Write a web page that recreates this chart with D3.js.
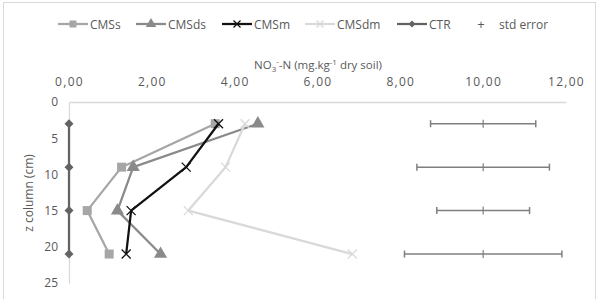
<!DOCTYPE html>
<html>
<head>
<meta charset="utf-8">
<script src="https://cdn.jsdelivr.net/npm/d3@7"></script>
<style>
    body { margin: 0; background: #fff; }
    svg text { font-family: "Open Sans", "Noto Sans", sans-serif; fill: #595959; }
</style>
</head>
<body>
<svg id="chart" width="599" height="299"></svg>
<script>
// depth of each sample (cm)
const depths = [3, 9, 15, 21];
const cmsS = [3.53, 1.27, 0.44, 0.97];
const cmsDS = [4.56, 1.55, 1.17, 2.21];
const cmsM = [3.61, 2.83, 1.50, 1.38];
const cmsDM = [4.25, 3.78, 2.88, 6.84];
const ctr = [0, 0, 0, 0];
const errCenter = [10, 10, 10, 10];
const errSize = [1.27, 1.6, 1.12, 1.9];
const xTicks = [0, 2, 4, 6, 8, 10, 12];
const yTicks = [0, 5, 10, 15, 20, 25];

const seriesNames = ["CMSs", "CMSds", "CMSm", "CMSdm", "CTR"];
const series = [
    {name: "CMSs", values: cmsS, color: "#a6a6a6", marker: "square"},
    {name: "CMSds", values: cmsDS, color: "#8a8a8a", marker: "triangle"},
    {name: "CMSm", values: cmsM, color: "#111111", marker: "cross"},
    {name: "CMSdm", values: cmsDM, color: "#d9d9d9", marker: "cross"},
    {name: "CTR", values: ctr, color: "#636363", marker: "diamond"}
];

const svg = d3.select("#chart");
const margin = {left: 69, right: 33, top: 102, bottom: 16};
const width = 599, height = 299;

// outer frame
svg.append("rect")
    .attr("x", 3.5).attr("y", 2.5)
    .attr("width", 592).attr("height", 300)
    .attr("fill", "none").attr("stroke", "#d9d9d9");

const xScale = d3.scaleLinear().domain([0, 12]).range([margin.left, width - margin.right]);
const yScale = d3.scaleLinear().domain([0, 25]).range([margin.top, height - margin.bottom]);

// axes (Excel style: horizontal axis at top, light lines)
const xAxis = d3.axisTop(xScale).tickValues(xTicks).tickSize(0).tickPadding(16)
    .tickFormat(d => d3.format(".2f")(d).replace(".", ","));
const gx = svg.append("g").attr("transform", `translate(0,${margin.top})`).call(xAxis);
gx.select(".domain").attr("stroke", "#d9d9d9").attr("stroke-width", 1.3);
gx.selectAll("text").style("font-size", "12px").style("letter-spacing", "1.3px");

const yAxis = d3.axisLeft(yScale).tickValues(yTicks).tickSize(0).tickPadding(11);
const gy = svg.append("g").attr("transform", `translate(${margin.left},0)`).call(yAxis);
gy.select(".domain").attr("stroke", "#d9d9d9").attr("stroke-width", 1.3);
gy.selectAll("text").style("font-size", "12px");

// axis titles
const title = svg.append("text").attr("x", 318).attr("y", 69)
    .attr("text-anchor", "middle").style("font-size", "11.5px");
title.append("tspan").text("NO");
title.append("tspan").attr("dy", 3).style("font-size", "8px").text("3");
title.append("tspan").attr("dy", -8).style("font-size", "8px").text("-");
title.append("tspan").attr("dy", 5).text("-N (mg.kg");
title.append("tspan").attr("dy", -4).style("font-size", "8px").text("-1");
title.append("tspan").attr("dy", 4).text(" dry soil)");

svg.append("text")
    .attr("transform", "translate(33,193) rotate(-90)")
    .attr("text-anchor", "middle").style("font-size", "12px")
    .text("z column (cm)");

// marker drawing
function drawMarker(g, type, color, size) {
    if (type === "square") {
        g.append("rect").attr("x", -size / 2).attr("y", -size / 2)
            .attr("width", size).attr("height", size).attr("fill", color);
    } else if (type === "triangle") {
        g.append("path").attr("d", d3.symbol(d3.symbolTriangle, size * size * 0.75)()).attr("fill", color);
    } else if (type === "diamond") {
        const s = size / 2;
        g.append("path").attr("d", `M0,${-s}L${s},0L0,${s}L${-s},0Z`).attr("fill", color);
    } else if (type === "cross") {
        const s = size / 2;
        g.append("path").attr("d", `M${-s},${-s}L${s},${s}M${s},${-s}L${-s},${s}`)
            .attr("stroke", color).attr("stroke-width", 1.3).attr("fill", "none");
    }
}

// error bars (std error)
const err = svg.append("g");
errCenter.forEach((c, i) => {
    const y = yScale(depths[i]);
    const x0 = xScale(c - errSize[i]), x1 = xScale(c + errSize[i]);
    err.append("line").attr("x1", x0).attr("x2", x1).attr("y1", y).attr("y2", y)
        .attr("stroke", "#7f7f7f").attr("stroke-width", 1.5);
    [x0, x1].forEach(x => err.append("line").attr("x1", x).attr("x2", x)
        .attr("y1", y - 3.5).attr("y2", y + 3.5).attr("stroke", "#7f7f7f").attr("stroke-width", 1.5));
    err.append("line").attr("x1", xScale(c)).attr("x2", xScale(c))
        .attr("y1", y - 4).attr("y2", y + 4).attr("stroke", "#7f7f7f").attr("stroke-width", 1.2);
});

// series lines and markers
const line = d3.line().x(d => xScale(d[0])).y(d => yScale(d[1]));
const markerSize = {square: 9, triangle: 10, diamond: 9, cross: 9};
series.forEach(s => {
    const pts = s.values.map((v, i) => [v, depths[i]]);
    svg.append("path").datum(pts).attr("d", line)
        .attr("fill", "none").attr("stroke", s.color).attr("stroke-width", 2.25)
        .attr("stroke-linejoin", "round");
    pts.forEach(p => {
        const g = svg.append("g").attr("transform", `translate(${xScale(p[0])},${yScale(p[1])})`);
        drawMarker(g, s.marker, s.color, markerSize[s.marker]);
    });
});

// legend
const legendX = [58, 136, 222, 305, 397];
const legend = svg.append("g");
series.forEach((s, i) => {
    const x = legendX[i], y = 24;
    legend.append("line").attr("x1", x).attr("x2", x + 30).attr("y1", y).attr("y2", y)
        .attr("stroke", s.color).attr("stroke-width", 2.25);
    const g = legend.append("g").attr("transform", `translate(${x + 15},${y})`);
    drawMarker(g, s.marker, s.color, markerSize[s.marker] - 2);
    legend.append("text").attr("x", x + 32).attr("y", y + 4.5)
        .style("font-size", "12px").text(seriesNames[i]);
});
legend.append("text").attr("x", 481).attr("y", 28.5).attr("text-anchor", "middle")
    .style("font-size", "13px").text("+");
legend.append("text").attr("x", 499).attr("y", 28.5)
    .style("font-size", "12px").text("std error");
</script>
</body>
</html>
